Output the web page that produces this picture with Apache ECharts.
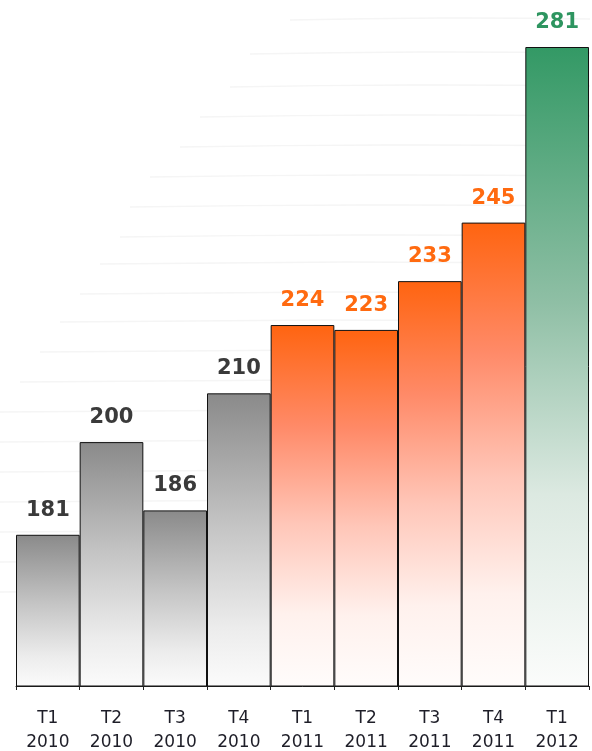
<!DOCTYPE html>
<html><head><meta charset="utf-8">
<script src="https://cdn.jsdelivr.net/npm/echarts@6/dist/echarts.min.js"></script>
<style>html,body{margin:0;padding:0;background:#fff}#c{width:592px;height:751px}</style>
</head><body><div id="c"></div>
<script>
const categories = ["T1\n2010","T2\n2010","T3\n2010","T4\n2010","T1\n2011","T2\n2011","T3\n2011","T4\n2011","T1\n2012"];
const values = [181,200,186,210,224,223,233,245,281];
const groups = ["2010","2010","2010","2010","2011","2011","2011","2011","2012"];

const palette = {
  "2010": {stops:[[0,"#8a8a8a"],[0.45,"#c4c4c4"],[0.8,"#ececec"],[1,"#fbfbfb"]], label:"#3a3a3a"},
  "2011": {stops:[[0,"#ff6410"],[0.28,"#ff8a68"],[0.55,"#ffc6b8"],[0.8,"#fff1ed"],[1,"#fffcfb"]], label:"#ff6a10"},
  "2012": {stops:[[0,"#339965"],[0.4,"#8fbfa5"],[0.7,"#dce9e1"],[1,"#fbfcfb"]], label:"#2e9560"}
};

const data = values.map((v,i)=>{
  const p = palette[groups[i]];
  return {
    value: v,
    itemStyle: {
      color: new echarts.graphic.LinearGradient(0,0,0,1,p.stops.map(s=>({offset:s[0],color:s[1]}))),
      borderColor:"#111", borderWidth:1
    },
    label: {color:p.label}
  };
});

// faint decorative background strokes
const deco = [];
const strokes = [[290,18,590],[250,52,590],[230,85,590],[200,115,590],[180,145,590],[150,175,590],[130,205,590],[120,235,590],[100,262,590],[80,292,590],[60,320,590],[40,350,590],[20,380,590],[0,410,590],[0,440,590],[0,470,590],[0,500,590],[0,530,590],[0,560,590],[0,590,590]];
strokes.forEach(s=>{
  deco.push({type:'polyline',z:-10,silent:true,shape:{points:[[s[0],s[1]+2],[(s[0]+s[2])/2,s[1]],[s[2],s[1]+1]],smooth:0.5},style:{stroke:'#f5f5f5',lineWidth:1.5,fill:null}});
});

const chart = echarts.init(document.getElementById('c'));
chart.setOption({
  animation:false,
  graphic:deco,
  grid:{left:16,right:3,top:47,bottom:65,containLabel:false,outerBoundsMode:'none'},
  xAxis:{
    type:'category', data:categories,
    axisLine:{lineStyle:{color:'#222',width:1}},
    axisTick:{show:true,length:4,lineStyle:{color:'#222'}},
    axisLabel:{color:'#1e1e28',fontFamily:'DejaVu Sans',fontSize:17,lineHeight:24,margin:21}
  },
  yAxis:{type:'value',min:150,max:281,show:false,splitLine:{show:false}},
  series:[{
    type:'bar', data:data, barCategoryGap:'0%', z:5,
    label:{show:true,position:'top',distance:14,fontFamily:'DejaVu Sans',fontWeight:'bold',fontSize:21}
  }]
});
</script></body></html>
